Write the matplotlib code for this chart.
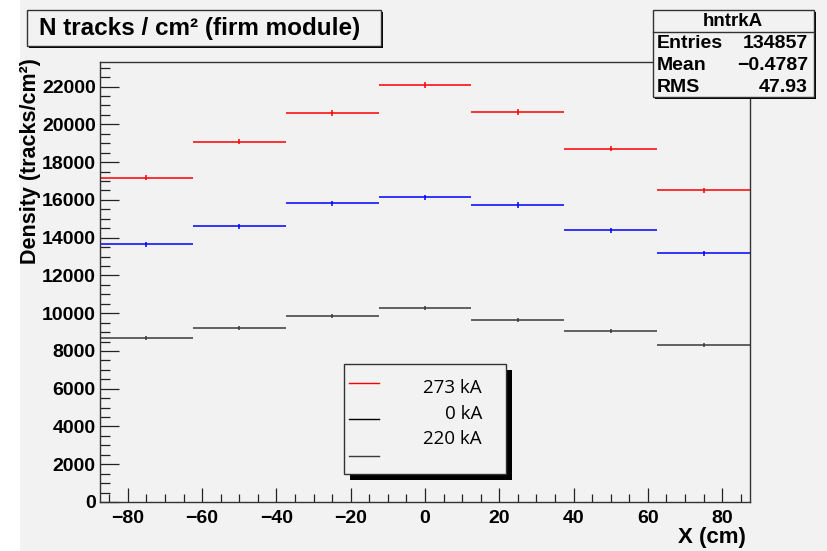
import numpy as np
import matplotlib.pyplot as plt
from matplotlib.patches import Rectangle
from matplotlib.ticker import MultipleLocator

# bin centres (cm), 7 bins of 25 cm
x_centers = [-75, -50, -25, 0, 25, 50, 75]
bin_half = 12.5

# densities (tracks/cm^2)
red_vals = [17170, 19080, 20590, 22090, 20640, 18710, 16520]
blue_vals = [13650, 14610, 15830, 16150, 15730, 14380, 13170]
gray_vals = [8690, 9220, 9840, 10280, 9650, 9060, 8320]
red_err = [140, 145, 150, 155, 150, 145, 135]
blue_err = [125, 130, 135, 135, 135, 130, 125]
gray_err = [100, 105, 105, 110, 105, 100, 100]

legend_labels = ["273 kA", "0 kA", "220 kA"]
stats_rows = [("Entries", "134857"), ("Mean", "\u22120.4787"), ("RMS", "47.93")]

W, H = 827, 551
bg = "#f2f2f2"
plt.rcParams['font.family'] = ['Liberation Sans', 'DejaVu Sans']

fig = plt.figure(figsize=(W / 100, H / 100), dpi=100, facecolor="white")


def fx(px):
    return px / W


def fy(py):
    return 1 - py / H


# gray canvas (white strip on the left)
fig.patches.append(Rectangle((fx(20), 0), 1 - fx(20), 1, transform=fig.transFigure,
                             facecolor=bg, edgecolor="none", zorder=-5))

ax = fig.add_axes([fx(100), fy(502), fx(750) - fx(100), fy(61.5) - fy(502)])
ax.set_facecolor(bg)

for vals, errs, col in [(red_vals, red_err, "#ff0000"),
                        (blue_vals, blue_err, "#0000ff"),
                        (gray_vals, gray_err, "#3a3a3a")]:
    ax.errorbar(x_centers, vals, xerr=bin_half, yerr=errs, fmt="none",
                ecolor=col, elinewidth=1.1, capsize=0)

ax.set_xlim(-87.5, 87.5)
ax.set_ylim(0, 23330)
ax.xaxis.set_major_locator(MultipleLocator(20))
ax.xaxis.set_minor_locator(MultipleLocator(5))
ax.yaxis.set_major_locator(MultipleLocator(2000))
ax.yaxis.set_minor_locator(MultipleLocator(500))
ax.tick_params(axis="both", which="both", direction="in", colors="#222222",
               labelcolor="black", width=0.9)
ax.tick_params(axis="y", which="major", length=14, pad=3, labelsize=14)
ax.tick_params(axis="y", which="minor", length=7)
ax.tick_params(axis="x", which="major", length=10, pad=6, labelsize=14)
ax.tick_params(axis="x", which="minor", length=6)
for lab in ax.get_xticklabels() + ax.get_yticklabels():
    lab.set_fontweight("bold")
for sp in ax.spines.values():
    sp.set_color("#333333")
    sp.set_linewidth(1.0)

fig.text(fx(31), fy(58), "Density (tracks/cm\u00b2)", rotation=90, ha="center",
         va="top", fontsize=15.5, fontweight="bold")
fig.text(fx(746), fy(538), "X (cm)", ha="right", va="center", fontsize=16,
         fontweight="bold")


def shadow_box(x0, y0, x1, y1, sh, lw=1.0):
    fig.patches.append(Rectangle((fx(x0 + sh), fy(y1 + sh)), fx(x1 - x0), fy(y0) - fy(y1),
                                 transform=fig.transFigure, facecolor="black",
                                 edgecolor="none", zorder=5))
    fig.patches.append(Rectangle((fx(x0), fy(y1)), fx(x1 - x0), fy(y0) - fy(y1),
                                 transform=fig.transFigure, facecolor=bg,
                                 edgecolor="#333333", linewidth=lw, zorder=6))


# title box
shadow_box(27, 10, 381, 46, 2)
fig.text(fx(39), fy(29), "N tracks / cm\u00b2 (firm module)", ha="left", va="center",
         fontsize=17.5, fontweight="bold", zorder=7)

# stats box
shadow_box(653, 10, 814, 97, 2)
fig.lines.append(plt.Line2D([fx(653), fx(814)], [fy(32), fy(32)], transform=fig.transFigure,
                            color="#333333", linewidth=1.0, zorder=7))
fig.text(fx(733), fy(21), "hntrkA", ha="center", va="center", fontsize=13.5,
         fontweight="bold", zorder=7)
for i, (name, val) in enumerate(stats_rows):
    yy = fy(44 + i * 21.5)
    fig.text(fx(657), yy, name, ha="left", va="center", fontsize=14,
             fontweight="bold", zorder=7)
    fig.text(fx(808), yy, val, ha="right", va="center", fontsize=14,
             fontweight="bold", zorder=7)

# legend box
shadow_box(344, 364, 506, 474, 6)
leg_cols = ["#ff0000", "#000000", "#3a3a3a"]
line_y = [383, 419, 456]
text_y = [388, 414, 439]
for lab, col, ly, ty in zip(legend_labels, leg_cols, line_y, text_y):
    fig.lines.append(plt.Line2D([fx(349), fx(379)], [fy(ly), fy(ly)],
                                transform=fig.transFigure, color=col,
                                linewidth=1.0, zorder=7))
    fig.text(fx(482), fy(ty), lab, ha="right", va="center", fontsize=13.5,
             family=["Open Sans", "DejaVu Sans"], zorder=7)

fig.savefig("out.png", dpi=100, facecolor=fig.get_facecolor())
